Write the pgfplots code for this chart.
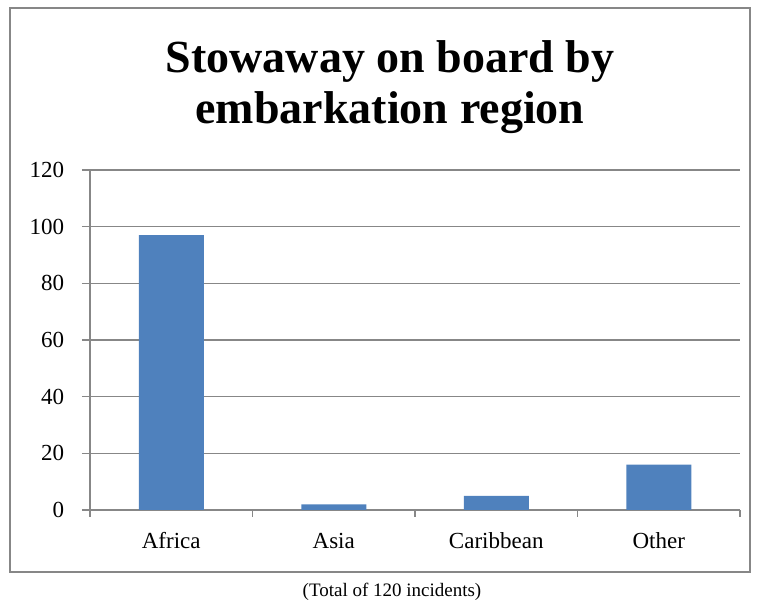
\documentclass[border=0pt]{standalone}
\usepackage{pgfplots}
\pgfplotsset{compat=1.18}
\usepackage{fontspec}
\setmainfont{Liberation Serif}
\definecolor{barblue}{HTML}{4F81BD}
\definecolor{linegray}{HTML}{878787}
\begin{document}
\begin{tikzpicture}[x=1pt,y=1pt]
\path[use as bounding box] (0,0) rectangle (758,602);
\draw[color=linegray, line width=1.4pt] (10,30) rectangle (750,594);
\node[font=\bfseries\fontsize{46}{51}\selectfont, align=center] at (390,515) {Stowaway on board by\\embarkation region};
\node[font=\fontsize{19}{22}\selectfont] at (392,10) {(Total of 120 incidents)};
\begin{axis}[
  at={(90pt,92pt)}, anchor=south west,
  scale only axis, width=650pt, height=340pt,
  ybar, bar width=65pt,
  ymin=0, ymax=120, ytick={0,20,...,120},
  xmin=-0.5, xmax=3.5,
  xtick={-0.5,0.5,1.5,2.5,3.5},
  x tick label as interval,
  xticklabels={Africa,Asia,Caribbean,Other},
  axis x line*=bottom, axis y line*=left,
  axis line style={linegray, line width=1.4pt, -},
  tick style={linegray, line width=1.4pt},
  tick align=outside,
  ytick style={/pgfplots/major tick length=8pt},
  xtick style={/pgfplots/major tick length=7pt},
  ymajorgrids, grid style={linegray, line width=1.4pt},
  /pgf/number format/assume math mode=true,
  ticklabel style={font=\fontsize{23}{26}\selectfont},
  yticklabel style={xshift=-18pt},
  xticklabel style={yshift=-15pt},
]
\addplot[fill=barblue, draw=none] coordinates {(0,97) (1,2) (2,5) (3,16)};
\end{axis}
\end{tikzpicture}
\end{document}
